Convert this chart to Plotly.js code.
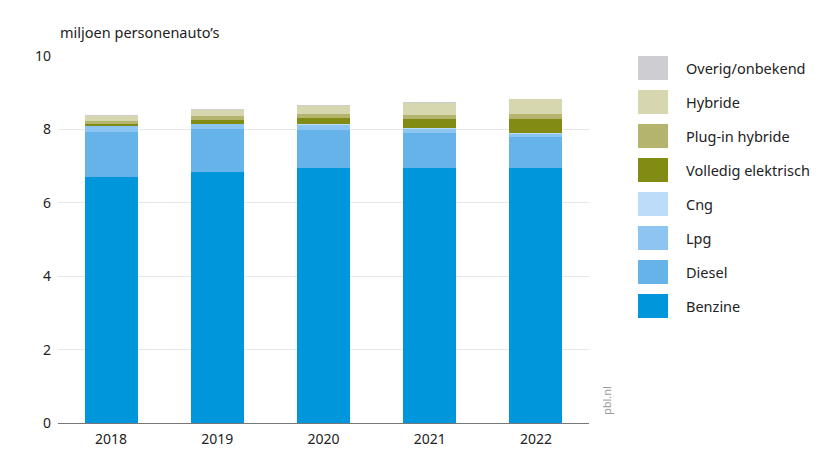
<!DOCTYPE html>
<html>
<head>
<meta charset="utf-8">
<script src="https://cdn.plot.ly/plotly-3.0.1.min.js"></script>
<style>html,body{margin:0;padding:0;background:#fff;}#chart{width:829px;height:472px;}</style>
</head>
<body>
<div id="chart"></div>
<script>
const years = ['2018', '2019', '2020', '2021', '2022'];
const benzine = [6.70, 6.84, 6.95, 6.95, 6.95];
const diesel = [1.23, 1.16, 1.04, 0.95, 0.83];
const lpg = [0.16, 0.15, 0.14, 0.12, 0.10];
const cng = [0.01, 0.01, 0.01, 0.01, 0.01];
const elektrisch = [0.04, 0.10, 0.18, 0.25, 0.38];
const pluginHybride = [0.09, 0.10, 0.10, 0.12, 0.15];
const hybride = [0.13, 0.18, 0.22, 0.32, 0.40];
const overig = [0.02, 0.02, 0.02, 0.02, 0.02];

const seriesNames = ['Benzine', 'Diesel', 'Lpg', 'Cng', 'Volledig elektrisch', 'Plug-in hybride', 'Hybride', 'Overig/onbekend'];
const seriesValues = [benzine, diesel, lpg, cng, elektrisch, pluginHybride, hybride, overig];
const seriesColors = ['#0096dc', '#66b3ea', '#8cc4f2', '#bcdcfa', '#828c14', '#b4b46e', '#d7d7af', '#cdcdd2'];
const yTicks = [0, 2, 4, 6, 8, 10];

const font = "'Noto Sans', 'Open Sans', sans-serif";

const traces = seriesNames.map((n, i) => ({
  type: 'bar', name: n, x: years, y: seriesValues[i],
  marker: {color: seriesColors[i], line: {width: 0}},
  showlegend: false, hoverinfo: 'skip'
}));

const top0 = 56, bot0 = 423, plotH = bot0 - top0;
const shapes = [];
const annotations = [];
const legendTop = 68, legendStep = 34;
for (let k = 0; k < seriesNames.length; k++) {
  const i = seriesNames.length - 1 - k;
  const yc = legendTop + k * legendStep;
  shapes.push({type: 'rect', xref: 'paper', yref: 'paper',
    x0: (638 - 58) / 531, x1: (668 - 58) / 531,
    y0: (bot0 - (yc - 12)) / plotH, y1: (bot0 - (yc + 12)) / plotH,
    fillcolor: seriesColors[i], line: {width: 0}});
  annotations.push({xref: 'paper', yref: 'paper', x: (684 - 58) / 531, y: (bot0 - yc) / plotH,
    xanchor: 'left', yanchor: 'middle', text: seriesNames[i], showarrow: false,
    font: {family: font, size: 14.5, color: '#222'}});
}
annotations.push({xref: 'paper', yref: 'paper', x: (606 - 58) / 531, y: (bot0 - 400) / plotH,
  text: 'pbl.nl', textangle: -90, showarrow: false, xanchor: 'center', yanchor: 'middle',
  font: {family: font, size: 11, color: '#999'}});

const layout = {
  width: 829, height: 472,
  margin: {l: 58, r: 240, t: top0, b: 472 - bot0},
  paper_bgcolor: '#fff', plot_bgcolor: '#fff',
  barmode: 'stack', bargap: 0.5,
  font: {family: font, size: 14, color: '#222'},
  title: {text: 'miljoen personenauto’s', xref: 'container', yref: 'container',
    x: 60 / 829, y: 1 - 33 / 472, xanchor: 'left', yanchor: 'middle',
    font: {family: font, size: 14.5, color: '#222'}},
  xaxis: {type: 'category', showgrid: false, zeroline: false, showline: false,
    ticks: '', ticklabelstandoff: 6, tickfont: {family: font, size: 14, color: '#222'}},
  yaxis: {range: [0, 10], tickvals: yTicks, ticktext: yTicks.map(String),
    showgrid: true, gridcolor: '#e8e8e8', gridwidth: 1,
    zeroline: true, zerolinecolor: '#777', zerolinewidth: 1,
    showline: false, ticks: '', ticklabelstandoff: 6,
    tickfont: {family: font, size: 14, color: '#222'}},
  shapes: shapes, annotations: annotations,
  showlegend: false
};

Plotly.newPlot('chart', traces, layout, {displayModeBar: false, staticPlot: true});
</script>
</body>
</html>
